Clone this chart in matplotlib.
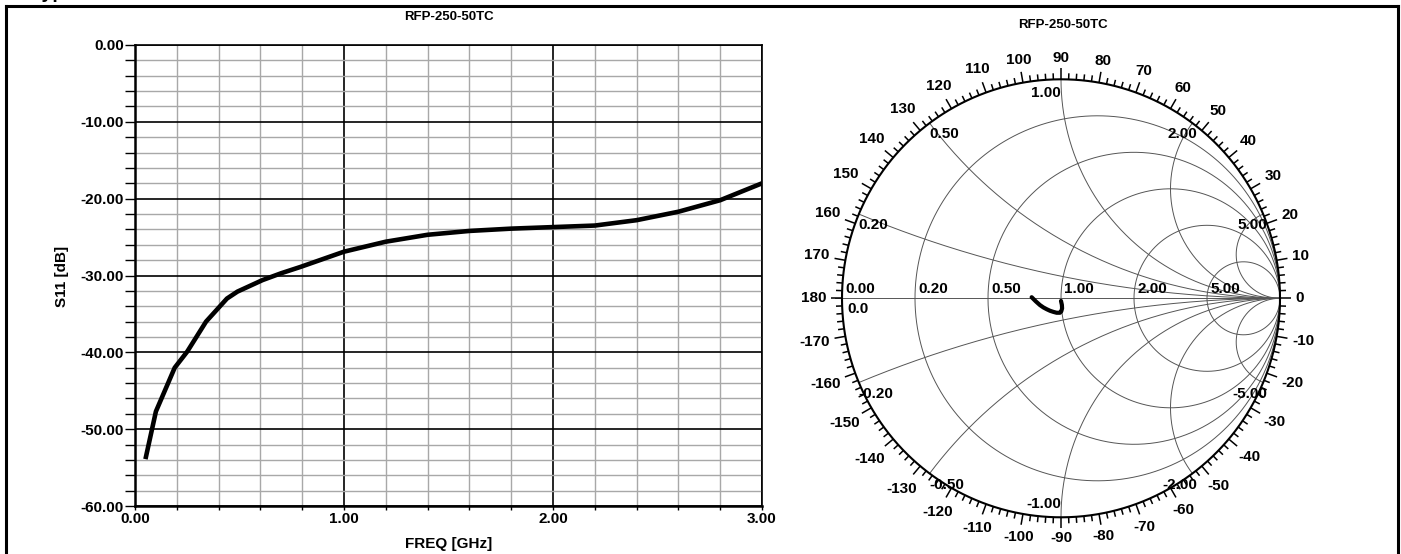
import numpy as np
import matplotlib
matplotlib.use("Agg")
import matplotlib.pyplot as plt
from matplotlib.lines import Line2D
from matplotlib.collections import LineCollection

plt.rcParams['font.family'] = ['Liberation Sans', 'DejaVu Sans']

# S11 return loss
freq_ghz = [0.05, 0.10, 0.19, 0.25, 0.34, 0.44, 0.49, 0.61, 0.70, 0.79, 1.00, 1.20,
            1.40, 1.60, 1.80, 2.00, 2.20, 2.40, 2.60, 2.80, 3.00]
s11_db = [-53.9, -47.7, -42.0, -39.9, -36.0, -33.0, -32.1, -30.6, -29.7, -28.9, -26.9, -25.6,
          -24.7, -24.2, -23.9, -23.7, -23.5, -22.8, -21.7, -20.2, -18.0]

# same trace on the Smith chart (reflection coefficient, low -> high freq)
gamma_re = [0.000, 0.004, 0.005, 0.001, -0.005, -0.020, -0.035, -0.050, -0.065, -0.080, -0.096, -0.115, -0.134]
gamma_im = [-0.012, -0.030, -0.046, -0.060, -0.066, -0.066, -0.062, -0.057, -0.050, -0.042, -0.031, -0.014, 0.005]

title = "RFP-250-50TC"
x_ticks = [0, 1, 2, 3]
y_ticks = [-60, -50, -40, -30, -20, -10, 0]
r_values = [0.2, 0.5, 1.0, 2.0, 5.0]
x_values = [0.2, 0.5, 1.0, 2.0, 5.0]

W, H = 1401, 554
fig = plt.figure(figsize=(W / 100, H / 100), dpi=100)

# ---------------- left: S11 vs frequency ----------------
ax = fig.add_axes([135 / W, (H - 506) / H, 627 / W, 461 / H])
ax.plot(freq_ghz, s11_db, color="black", lw=3.3, solid_capstyle="butt", zorder=5)
ax.set_xlim(0, 3)
ax.set_ylim(-60, 0)
ax.set_xticks(x_ticks)
ax.set_xticklabels(["%.2f" % v for v in x_ticks])
ax.set_yticks(y_ticks)
ax.set_yticklabels(["%.2f" % v for v in y_ticks])
ax.set_xticks(np.arange(0, 3.01, 0.2), minor=True)
ax.set_yticks(np.arange(-60, 0.1, 2), minor=True)
ax.grid(which="minor", color="#a8a8a8", lw=1.0)
ax.grid(which="major", color="black", lw=1.2)
ax.set_axisbelow(True)
ax.tick_params(axis="y", which="both", direction="out", length=7, width=1, pad=1,
               labelsize=11)
ax.tick_params(axis="x", which="both", direction="out", length=3, width=1, pad=1.5,
               labelsize=11)
for lab in ax.get_xticklabels() + ax.get_yticklabels():
    lab.set_fontweight("bold")
for s in ax.spines.values():
    s.set_color("black")
    s.set_linewidth(1.2)
ax.spines["left"].set_linewidth(1.8)
ax.spines["bottom"].set_linewidth(1.8)

fig.text(448.5 / W, 1 - 17 / H, title, ha="center", va="center", fontsize=9.5, fontweight="bold")
fig.text(448.5 / W, 1 - 544 / H, "FREQ [GHz]", ha="center", va="center", fontsize=11, fontweight="bold")
fig.text(62 / W, 1 - 276 / H, "S11 [dB]", ha="center", va="center", rotation=90,
         fontsize=11, fontweight="bold")

# ---------------- right: Smith chart ----------------
R = 219.0
cx, cy = 1061.0, 298.3
half = 1.3 * R
sm = fig.add_axes([(cx - half) / W, (H - cy - half) / H, 2 * half / W, 2 * half / H])
sm.set_xlim(-1.3, 1.3)
sm.set_ylim(-1.3, 1.3)
sm.axis("off")

grid_kw = dict(color="#555555", lw=0.7, zorder=2)
t = np.linspace(0, 2 * np.pi, 600)
for r in r_values:
    c, rad = r / (1 + r), 1 / (1 + r)
    sm.plot(c + rad * np.cos(t), rad * np.sin(t), **grid_kw)
rr = np.concatenate([[0], np.logspace(-3, 4, 600)])
for xv in x_values:
    for sgn in (1, -1):
        z = rr + 1j * sgn * xv
        g = (z - 1) / (z + 1)
        sm.plot(g.real, g.imag, **grid_kw)
sm.plot([-1.03, 1.0], [0, 0], **grid_kw)
sm.plot(np.cos(t), np.sin(t), color="black", lw=1.5, zorder=3)

# angle ticks around the rim
segs = []
for d in range(-180, 180, 2):
    a = np.deg2rad(d)
    L = 0.05 if d % 10 == 0 else 0.028
    segs.append([(np.cos(a), np.sin(a)), ((1 + L) * np.cos(a), (1 + L) * np.sin(a))])
sm.add_collection(LineCollection(segs, colors="black", linewidths=1.1, zorder=3))

sfs = 11
fs_px = sfs * 100 / 72
for d in range(-170, 181, 10):
    a = np.deg2rad(d)
    s = str(d)
    w = sum(0.333 if ch == "-" else 0.556 for ch in s) * fs_px / R
    h = 0.72 * fs_px / R
    rad = 1.07 + 0.5 * (w * abs(np.cos(a)) + h * abs(np.sin(a)))
    sm.text(rad * np.cos(a), rad * np.sin(a), s, ha="center", va="center",
            fontsize=sfs, fontweight="bold")

lab_kw = dict(fontsize=sfs, fontweight="bold", zorder=4)
# resistance labels on the real axis
for r in [0.0] + r_values:
    g = (r - 1) / (r + 1)
    sm.text(g + 0.015, 0.012, "%.2f" % r, ha="left", va="bottom", **lab_kw)
sm.text(-1 + 0.025, -0.015, "0.0", ha="left", va="top", **lab_kw)

# reactance labels at the rim
for xv in x_values:
    for sgn in (1, -1):
        gx = (xv ** 2 - 1) / (xv ** 2 + 1)
        gy = sgn * 2 * xv / (xv ** 2 + 1)
        s = "%.2f" % (sgn * xv)
        if xv == 1.0:
            ha = "right"
            va = "top" if sgn > 0 else "bottom"
            dy = -0.03 if sgn > 0 else 0.03
            sm.text(gx, gy + dy, s, ha=ha, va=va, **lab_kw)
        else:
            ha = "left" if gx < 0 else "right"
            dx = 0.0 if gx < 0 else 0.02
            sm.text(gx + dx, gy - 0.02, s, ha=ha, va="top", **lab_kw)

sm.plot(gamma_re, gamma_im, color="black", lw=3.0, solid_capstyle="round", zorder=6)

fig.text(1063 / W, 1 - 25 / H, title, ha="center", va="center", fontsize=9.5, fontweight="bold")

# ---------------- page frame and cut-off heading ----------------
fw = 2.2
fig.add_artist(Line2D([5.5 / W, 5.5 / W], [0, 1 - 5.5 / H], color="black", lw=fw))
fig.add_artist(Line2D([5.5 / W, 1397.5 / W], [1 - 5.5 / H, 1 - 5.5 / H], color="black", lw=fw))
fig.add_artist(Line2D([1397.5 / W, 1397.5 / W], [0, 1 - 5.5 / H], color="black", lw=fw))
fig.text(31 / W, 1 + 1.5 / H, "Typical Performance", ha="left", va="baseline",
         fontsize=14, fontweight="bold")

fig.savefig("out.png", dpi=100)
